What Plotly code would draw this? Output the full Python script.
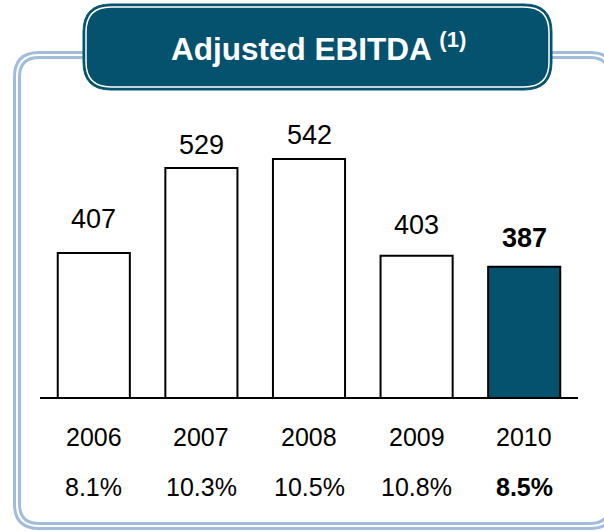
import plotly.graph_objects as go

years = ["2006", "2007", "2008", "2009", "2010"]
ebitda = [407, 529, 542, 403, 387]
margins = ["8.1%", "10.3%", "10.5%", "10.8%", "8.5%"]
highlight = [False, False, False, False, True]

DARK = "#04526E"
FRAME = "#a2bcdc"
FONT = "Liberation Sans, Arial, sans-serif"

W, H = 604, 531
L, R, T, B = 40, 26, 100, 134
PW, PH = W - L - R, H - T - B
Y0 = 200
YMAX = Y0 + PH / 0.696


def px(x):
    return (x - L) / PW


def py(y):
    return (H - B - y) / PH


def rrect(x0, y0, x1, y1, r):
    pts = [
        ("M", [(x0 + r, y0)]), ("L", [(x1 - r, y0)]), ("Q", [(x1, y0), (x1, y0 + r)]),
        ("L", [(x1, y1 - r)]), ("Q", [(x1, y1), (x1 - r, y1)]),
        ("L", [(x0 + r, y1)]), ("Q", [(x0, y1), (x0, y1 - r)]),
        ("L", [(x0, y0 + r)]), ("Q", [(x0, y0), (x0 + r, y0)]),
    ]
    s = ""
    for cmd, ps in pts:
        s += cmd + " " + " ".join(f"{px(a):.5f},{py(b):.5f}" for a, b in ps) + " "
    return s + "Z"


fills = [DARK if h else "white" for h in highlight]

fig = go.Figure(go.Bar(
    x=years, y=ebitda,
    marker=dict(color=fills, line=dict(color="black", width=2)),
    width=0.67, hoverinfo="skip",
))

label_shift = [17, 6, 7, 14, 12]
ann = []
for i, (yr, v, m, h, s) in enumerate(zip(years, ebitda, margins, highlight, label_shift)):
    ann.append(dict(x=i, y=v, xref="x", yref="y", yanchor="bottom", yshift=s,
                    text=f"<b>{v}</b>" if h else str(v), showarrow=False,
                    font=dict(size=27, color="black", family=FONT)))
    ann.append(dict(x=i, y=0, xref="x", yref="paper", yanchor="middle", yshift=-40,
                    text=yr, showarrow=False,
                    font=dict(size=25, color="black", family=FONT)))
    ann.append(dict(x=i, y=0, xref="x", yref="paper", yanchor="middle", yshift=-90,
                    text=f"<b>{m}</b>" if h else m, showarrow=False,
                    font=dict(size=25, color="black", family=FONT)))

ann.append(dict(x=px(318), y=py(47), xref="paper", yref="paper", xanchor="center",
                yanchor="middle", showarrow=False,
                text="<b>Adjusted EBITDA <sup>(1)</sup></b>",
                font=dict(size=31.5, color="white", family=FONT)))

shapes = [
    dict(type="path", xref="paper", yref="paper", path=rrect(17, 55, 612, 526, 22),
         line=dict(color=FRAME, width=8), layer="above"),
    dict(type="path", xref="paper", yref="paper", path=rrect(17, 55, 612, 526, 22),
         line=dict(color="white", width=2), layer="above"),
    dict(type="path", xref="paper", yref="paper", path=rrect(83, 4, 552, 90, 28),
         fillcolor=DARK, line=dict(color=DARK, width=1), layer="above"),
    dict(type="path", xref="paper", yref="paper", path=rrect(86, 7, 549, 87, 25),
         line=dict(color="white", width=1.5), layer="above"),
]

fig.update_layout(
    width=W, height=H,
    margin=dict(l=L, r=R, t=T, b=B),
    paper_bgcolor="white", plot_bgcolor="white",
    showlegend=False,
    annotations=ann, shapes=shapes,
    xaxis=dict(type="category", range=[-0.5, 4.5], showticklabels=False, showgrid=False,
               zeroline=False, showline=True, linecolor="black", linewidth=2, ticks=""),
    yaxis=dict(range=[Y0, YMAX], visible=False, showgrid=False, zeroline=False),
    font=dict(family=FONT),
)

fig.write_html(
    "out.html",
    config={"displayModeBar": False},
    post_script="document.body.style.margin='0';document.body.style.overflow='hidden';",
)
